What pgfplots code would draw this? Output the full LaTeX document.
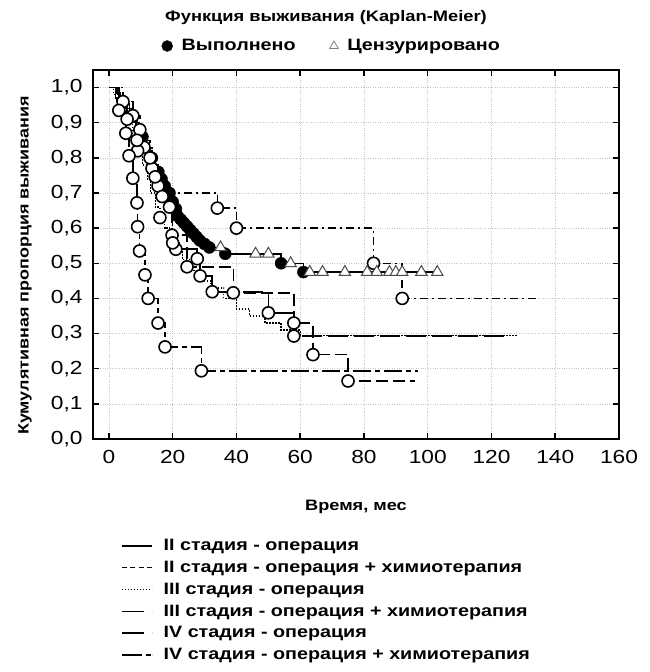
\documentclass[border=0pt]{standalone}
\usepackage{fontspec}
\setmainfont[FakeStretch=1.2]{Liberation Sans}
\usepackage{pgfplots}
\pgfplotsset{compat=1.18}

% line styles of the six groups
\tikzset{
  gA/.style={line width=1.5bp},
  gB/.style={line width=1.5bp, dash pattern=on 8bp off 4bp on 2bp off 4bp},
  gC/.style={line width=1.3bp, dash pattern=on 1.5bp off 1.5bp},
  gD/.style={line width=1.5bp, dash pattern=on 12bp off 5bp},
  gE/.style={line width=1.5bp, dash pattern=on 20bp off 6bp},
  gF/.style={line width=1.5bp, dash pattern=on 18bp off 4bp on 5bp off 4bp},
  opn/.style={only marks, mark=*, mark size=6bp, mark options={draw=black, fill=white, line width=1.6bp}},
}

\begin{document}
\begin{tikzpicture}
\begin{axis}[
  name=ax, scale only axis, width=526bp, height=369bp,
  xmin=-5, xmax=160, ymin=0, ymax=1.05,
  xtick={0,20,40,60,80,100,120,140,160},
  ytick={0,0.1,0.2,0.3,0.4,0.5,0.6,0.7,0.8,0.9,1.0},
  /pgf/number format/.cd, fixed, fixed zerofill, precision=1, use comma, assume math mode=true,
  /pgfplots/.cd,
  xticklabel style={/pgf/number format/precision=0, /pgf/number format/fixed zerofill=false, yshift=-8bp},
  yticklabel style={xshift=-7bp},
  ticklabel style={font=\fontsize{19}{21}\selectfont},
  tick align=inside, major tick length=6bp,
  tick style={line width=1.5bp, black},
  axis line style={line width=2bp},
  grid=major, major grid style={dotted, gray!45, line width=0.7bp},
  title={Функция выживания (Kaplan-Meier)},
  title style={at={(0.443,1.125)}, anchor=center, font=\bfseries\fontsize{15.3}{18}\selectfont},
  xlabel={Время, мес},
  xlabel style={at={(axis description cs:0.5,-0.184)}, anchor=center, font=\bfseries\fontsize{15.2}{18}\selectfont},
  ylabel={Кумулятивная пропорция выживания},
  ylabel style={at={(axis description cs:-0.129,0.47)}, anchor=center, font=\bfseries\fontsize{15}{18}\selectfont},
  legend cell align=left,
  legend image code/.code={\draw[#1] (0bp,0bp) -- (30bp,0bp);},
  legend style={at={(0.0475,-0.261)}, anchor=north west, draw=none, fill=none,
    font=\bfseries\fontsize{16.5}{19}\selectfont, row sep=5bp,
    /tikz/every odd column/.append style={column sep=9bp}},
]
% II stage - operation
\addplot[gA, const plot, forget plot] coordinates {
(0,1.0) (2,0.985) (3.5,0.97) (5,0.955) (6.5,0.94) (7.5,0.92) (8.5,0.90) (9.5,0.88)
(10.5,0.86) (11.5,0.84) (12.5,0.82) (13.5,0.80) (14.5,0.78) (15.5,0.76) (16.5,0.74)
(17.5,0.72) (19,0.70) (20,0.675) (21,0.655) (21.5,0.635) (22.5,0.625) (23.5,0.615)
(24.5,0.605) (25.5,0.595) (26.5,0.585) (27.5,0.575) (28.5,0.565) (30,0.555)
(31.5,0.545) (36.5,0.527) (54,0.50) (61,0.475) (104,0.475)};
% II stage - operation + chemotherapy
\addplot[gB, const plot, forget plot] coordinates {
(0,1.0) (4.4,0.96) (7.5,0.92) (9.7,0.88) (11,0.83) (13.5,0.77) (15.4,0.72)
(18,0.70) (34,0.657) (40,0.60) (83,0.50) (92,0.40) (135,0.40)};
% III stage - operation
\addplot[gC, const plot, forget plot] coordinates {
(0,1.0) (1.5,0.98) (3,0.955) (4.5,0.93) (6,0.90) (7.5,0.86) (9,0.82) (10.5,0.78)
(12,0.74) (13,0.70) (14.5,0.66) (16,0.63) (17.5,0.60) (19,0.57) (21,0.54) (23,0.51)
(26,0.48) (29,0.45) (32,0.43) (36,0.40) (40,0.37) (44,0.35) (49,0.33) (54,0.31)
(60,0.295) (128,0.295)};
% III stage - operation + chemotherapy
\addplot[gD, const plot, forget plot] coordinates {
(0,1.0) (2.5,0.96) (5.7,0.91) (8.8,0.85) (12.9,0.80) (14.5,0.746) (16.7,0.69)
(19,0.66) (19.8,0.58) (24.5,0.49) (39,0.416) (58,0.33) (64,0.24) (75,0.165) (96,0.165)};
% IV stage - operation
\addplot[gE, const plot, forget plot] coordinates {
(0,1.0) (2,0.97) (4,0.94) (6.5,0.90) (8.5,0.86) (10,0.82) (11.5,0.79) (13.8,0.74)
(16,0.70) (18,0.65) (20,0.558) (22,0.54) (27.7,0.513) (28.6,0.464) (32.4,0.419)
(50,0.359) (58,0.293) (124,0.293)};
% IV stage - operation + chemotherapy
\addplot[gF, const plot, forget plot] coordinates {
(0,1.0) (3.1,0.935) (5.3,0.87) (6.3,0.806) (7.5,0.742) (8.8,0.672) (9,0.604)
(9.6,0.535) (11.3,0.467) (12.3,0.40) (15.4,0.33) (17.6,0.262) (29,0.194) (97,0.194)};

% events (complete), group II - operation
\addplot[only marks, mark=*, mark size=6bp, black, forget plot] coordinates {
(7.5,0.92) (10.5,0.86) (13.5,0.80) (15.5,0.76) (16.5,0.74)
(17.5,0.72) (19,0.70) (20,0.675) (21,0.655) (21.5,0.635) (22.5,0.625) (23.5,0.615)
(24.5,0.605) (25.5,0.595) (26.5,0.585) (27.5,0.575) (28.5,0.565) (30,0.555)
(31.5,0.545) (36.5,0.527) (54,0.50) (61,0.475)};
% events of the other groups
\addplot[opn, forget plot] coordinates {
(4.4,0.96) (7.5,0.92) (9.7,0.88) (11,0.83) (13.5,0.77) (15.4,0.72)
(34,0.657) (40,0.60) (83,0.50) (92,0.40)};
\addplot[opn, forget plot] coordinates {
(9,0.82) (16,0.63) (21,0.54)};
\addplot[opn, forget plot] coordinates {
(5.7,0.91) (8.8,0.85) (12.9,0.80) (14.5,0.746) (16.7,0.69) (19,0.66) (19.8,0.58)
(24.5,0.49) (39,0.416) (58,0.33) (64,0.24) (75,0.165)};
\addplot[opn, forget plot] coordinates {
(20,0.558) (27.7,0.513) (28.6,0.464) (32.4,0.419) (50,0.359) (58,0.293)};
\addplot[opn, forget plot] coordinates {
(3.1,0.935) (5.3,0.87) (6.3,0.806) (7.5,0.742) (8.8,0.672) (9,0.604)
(9.6,0.535) (11.3,0.467) (12.3,0.40) (15.4,0.33) (17.6,0.262) (29,0.194)};
% censored, group II - operation
\addplot[only marks, mark=triangle*, mark size=6.5bp, mark options={draw=gray!60!black, fill=white, line width=1bp}, forget plot] coordinates {
(35,0.545) (46,0.527) (50,0.527) (57,0.50) (63,0.475) (67,0.475) (74,0.475)
(81,0.475) (84,0.475) (88,0.475) (90,0.475) (92,0.475) (98,0.475) (103,0.475)};

\addlegendimage{line width=1.5bp}
\addlegendentry{II стадия - операция}
\addlegendimage{line width=1.5bp, dash pattern=on 5bp off 3.5bp}
\addlegendentry{II стадия - операция + химиотерапия}
\addlegendimage{line width=1.2bp, dash pattern=on 1.5bp off 1.5bp}
\addlegendentry{III стадия - операция}
\addlegendimage{line width=1.5bp, dash pattern=on 22bp off 8bp}
\addlegendentry{III стадия - операция + химиотерапия}
\addlegendimage{line width=1.5bp, dash pattern=on 22bp off 8bp}
\addlegendentry{IV стадия - операция}
\addlegendimage{line width=1.5bp, dash pattern=on 20bp off 4bp on 5bp off 1bp}
\addlegendentry{IV стадия - операция + химиотерапия}
\end{axis}

% marker key above the plot
\begin{axis}[
  at={(ax.south west)}, anchor=south west, scale only axis, width=526bp, height=369bp,
  hide axis, xmin=0, xmax=1, ymin=0, ymax=1,
  legend columns=2,
  legend style={at={(0.454,1.065)}, anchor=center, draw=none, fill=none,
    font=\bfseries\fontsize{16.5}{19}\selectfont,
    /tikz/every odd column/.append style={column sep=7bp},
    /tikz/every even column/.append style={column sep=32bp}},
]
\addlegendimage{only marks, mark=*, mark size=5.5bp, black}
\addlegendentry{Выполнено}
\addlegendimage{only marks, mark=triangle*, mark size=5bp, mark options={draw=gray, fill=white, line width=0.8bp}}
\addlegendentry{Цензурировано}
\end{axis}

\path ([shift={(-93bp,439bp)}]ax.south west) rectangle ([shift={(557bp,-233bp)}]ax.south west);
\end{tikzpicture}
\end{document}
